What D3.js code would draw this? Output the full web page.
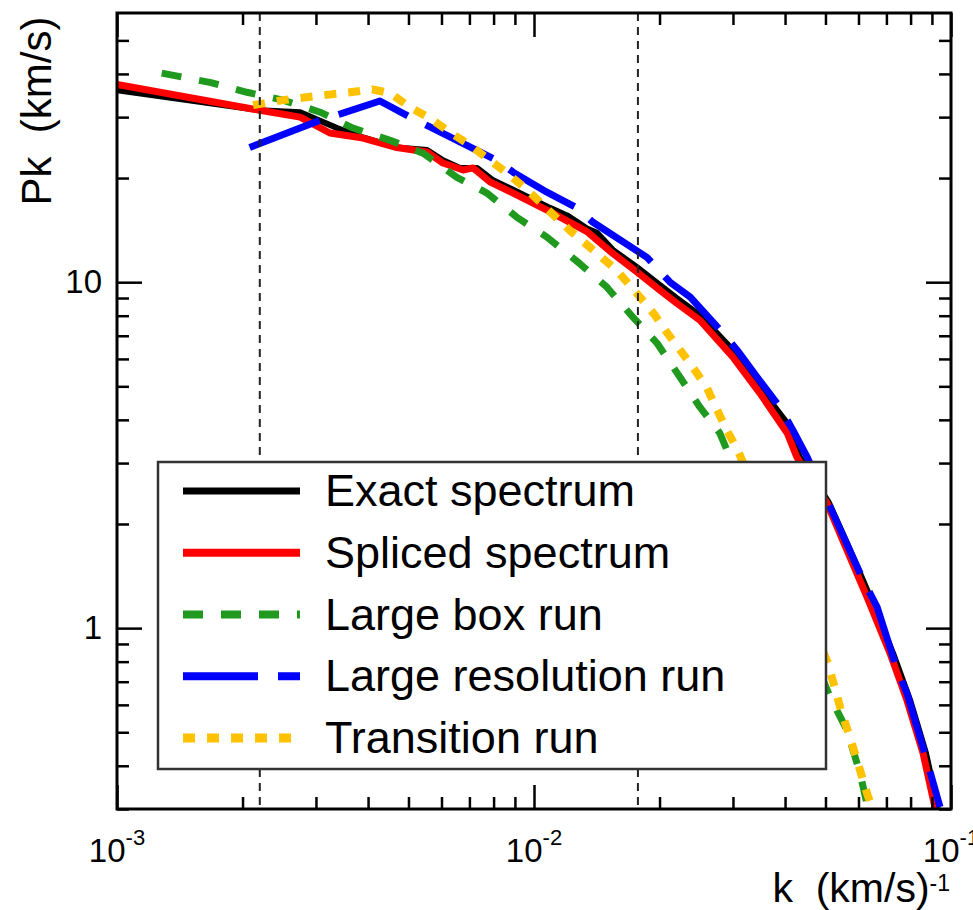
<!DOCTYPE html>
<html><head><meta charset="utf-8">
<script src="https://cdn.jsdelivr.net/npm/d3@7"></script>
<style>body{margin:0;background:#fff}svg{display:block}</style>
</head><body>
<script>
// ---- data ----
const kExact=[0.00100,0.00220,0.00275,0.00337,0.00389,0.00469,0.00554,0.00605,0.00665,0.00730,0.00798,0.00891,0.01092,0.0120,0.0134,0.01416,0.01546,0.01766,0.02005,0.0220,0.0250,0.0300,0.0348,0.0405,0.0434,0.0510,0.0573,0.0640,0.0726,0.0798,0.0871,0.0931];
const pkExact=[35.9,31.4,31.0,27.9,26.2,24.5,24.1,22.5,21.4,21.4,19.7,18.5,16.4,15.6,14.3,13.9,12.4,11.05,9.80,8.99,8.03,6.36,4.97,3.91,3.12,2.30,1.68,1.23,0.847,0.619,0.435,0.302];
const kSpliced=[0.00100,0.00220,0.00275,0.00324,0.00389,0.00469,0.00554,0.00605,0.00676,0.00714,0.00784,0.00891,0.01092,0.0134,0.01546,0.01766,0.02005,0.0220,0.0250,0.0300,0.0348,0.0405,0.0427,0.0504,0.0563,0.0629,0.0714,0.0784,0.0857,0.0916];
const pkSpliced=[37.3,31.4,30.0,27.0,26.1,24.5,23.8,22.1,21.1,21.4,19.5,18.1,16.0,14.0,12.1,10.7,9.48,8.69,7.76,6.07,4.78,3.66,3.12,2.30,1.68,1.23,0.847,0.619,0.435,0.302];
const kBox=[0.00128,0.00167,0.00205,0.00250,0.00307,0.00368,0.00452,0.00542,0.00653,0.00771,0.00910,0.01074,0.01289,0.01496,0.01727,0.01972,0.0224,0.0250,0.0279,0.0295,0.0513,0.0563,0.0605,0.0632];
const pkBox=[40.2,37.8,35.4,33.6,31.0,27.9,25.7,23.6,20.1,18.1,15.4,13.5,11.3,9.67,7.92,6.67,5.31,4.35,3.66,3.12,0.632,0.507,0.381,0.302];
const kHiRes=[0.00208,0.00307,0.00348,0.00427,0.00505,0.00563,0.00815,0.00891,0.01074,0.01268,0.01385,0.01866,0.0212,0.0237,0.0284,0.0307,0.0343,0.0389,0.0418,0.0452,0.0521,0.0615,0.0665,0.0743,0.0784,0.0875,0.0941];
const pkHiRes=[24.5,29.4,30.8,33.4,30.0,28.1,22.5,20.8,18.2,16.4,14.9,11.8,10.0,9.05,7.12,6.36,5.31,4.35,3.73,3.12,2.15,1.38,1.15,0.757,0.649,0.415,0.304];
const kTrans=[0.00212,0.00250,0.00312,0.00362,0.00409,0.00452,0.00505,0.00563,0.00629,0.00702,0.00784,0.00861,0.00962,0.01051,0.0122,0.01385,0.01582,0.01795,0.0195,0.0208,0.0226,0.0243,0.0260,0.0275,0.0290,0.0308,0.0507,0.0542,0.0582,0.0629,0.0647];
const pkTrans=[32.5,33.6,34.7,35.4,36.1,35.2,32.0,29.8,27.1,24.9,22.5,20.7,18.5,16.7,14.1,12.4,10.8,9.05,8.03,7.17,6.28,5.57,4.94,4.27,3.73,3.27,0.792,0.591,0.453,0.333,0.302];
const kMarks=[0.00220,0.01775];
const legendLabels=["Exact spectrum","Spliced spectrum","Large box run","Large resolution run","Transition run"];
const xMajor=[1e-3,1e-2,1e-1];
const xMinor=[2e-3,3e-3,4e-3,5e-3,6e-3,7e-3,8e-3,9e-3,2e-2,3e-2,4e-2,5e-2,6e-2,7e-2,8e-2,9e-2];
const yMajor=[1,10];
const yMinor=[0.3,0.4,0.5,0.6,0.7,0.8,0.9,2,3,4,5,6,7,8,9,20,30,40,50];

// ---- layout ----
const W=973,H=910;
const M={left:117,right:951,top:13,bottom:809};
const font='"Liberation Sans", Arial, Helvetica, sans-serif';
const x=d3.scaleLog().domain([1e-3,1e-1]).range([M.left,M.right]);
const y=d3.scaleLog().domain([0.3,60]).range([M.bottom,M.top]);

const svg=d3.select("body").append("svg").attr("width",W).attr("height",H).style("font-family",font);
svg.append("defs").append("clipPath").attr("id","clip").append("rect")
  .attr("x",M.left).attr("y",M.top).attr("width",M.right-M.left).attr("height",M.bottom-M.top);

const series=[
  {label:legendLabels[0],k:kExact,p:pkExact,color:"#000000",width:6,dash:null},
  {label:legendLabels[1],k:kSpliced,p:pkSpliced,color:"#ff0000",width:7,dash:null},
  {label:legendLabels[2],k:kBox,p:pkBox,color:"#1f9a1f",width:7,dash:"20,18"},
  {label:legendLabels[3],k:kHiRes,p:pkHiRes,color:"#0000ff",width:7,dash:"75,20"},
  {label:legendLabels[4],k:kTrans,p:pkTrans,color:"#ffc200",width:8,dash:"12,12"}
];

const line=d3.line().x(d=>x(d[0])).y(d=>y(d[1]));
const gLines=svg.append("g").attr("clip-path","url(#clip)");
series.forEach(s=>{
  gLines.append("path").datum(s.k.map((k,i)=>[k,s.p[i]]))
    .attr("d",line).attr("fill","none").attr("stroke",s.color)
    .attr("stroke-width",s.width).attr("stroke-dasharray",s.dash)
    .attr("stroke-linejoin","round");
});

// vertical dashed markers
svg.append("g").selectAll("line").data(kMarks).join("line")
  .attr("x1",d=>x(d)).attr("x2",d=>x(d)).attr("y1",M.top).attr("y2",M.bottom)
  .attr("stroke","#222").attr("stroke-width",2).attr("stroke-dasharray","8,6");

// axes
function tidy(g){g.select(".domain").remove();g.selectAll("line").attr("stroke","#000").attr("stroke-width",2.5);}
svg.append("g").attr("transform",`translate(${M.left},0)`)
  .call(d3.axisLeft(y).tickValues(yMajor).tickSize(-25).tickPadding(15).tickFormat(d3.format("d")))
  .call(tidy).call(g=>g.selectAll("text").attr("font-size",33).attr("font-family",font).attr("fill","#000"));
svg.append("g").attr("transform",`translate(${M.left},0)`)
  .call(d3.axisLeft(y).tickValues(yMinor).tickSize(-12).tickFormat("")).call(tidy);
svg.append("g").attr("transform",`translate(${M.right},0)`)
  .call(d3.axisRight(y).tickValues(yMajor).tickSize(-25).tickFormat("")).call(tidy);
svg.append("g").attr("transform",`translate(${M.right},0)`)
  .call(d3.axisRight(y).tickValues(yMinor).tickSize(-12).tickFormat("")).call(tidy);
svg.append("g").attr("transform",`translate(0,${M.bottom})`)
  .call(d3.axisBottom(x).tickValues(xMajor).tickSize(-24).tickFormat("")).call(tidy);
svg.append("g").attr("transform",`translate(0,${M.bottom})`)
  .call(d3.axisBottom(x).tickValues(xMinor).tickSize(-12).tickFormat("")).call(tidy);
svg.append("g").attr("transform",`translate(0,${M.top})`)
  .call(d3.axisTop(x).tickValues(xMajor).tickSize(-24).tickFormat("")).call(tidy);
svg.append("g").attr("transform",`translate(0,${M.top})`)
  .call(d3.axisTop(x).tickValues(xMinor).tickSize(-12).tickFormat("")).call(tidy);

// x tick labels with superscripts
svg.append("g").selectAll("text").data(xMajor).join("text")
  .attr("x",d=>x(d)).attr("y",862).attr("text-anchor","middle").attr("font-size",33).attr("fill","#000")
  .each(function(d){
    const t=d3.select(this);
    t.append("tspan").text("10");
    t.append("tspan").attr("dy",-17).attr("font-size",22).text(String(Math.round(Math.log10(d))));
  });

// frame
svg.append("rect").attr("x",M.left).attr("y",M.top).attr("width",M.right-M.left).attr("height",M.bottom-M.top)
  .attr("fill","none").attr("stroke","#000").attr("stroke-width",3);

// axis titles
const xt=svg.append("text").attr("x",950).attr("y",902).attr("text-anchor","end").attr("font-size",41).attr("fill","#000");
xt.append("tspan").text("k\u00a0\u00a0(km/s)");
xt.append("tspan").attr("dy",-11).attr("font-size",23).text("-1");
svg.append("text").attr("transform","translate(51,111) rotate(-90)").attr("text-anchor","middle")
  .attr("font-size",42).attr("fill","#000").text("Pk\u00a0\u00a0(km/s)");

// legend
const lg=svg.append("g");
lg.append("rect").attr("x",158).attr("y",462).attr("width",668).attr("height",307)
  .attr("fill","#fff").attr("stroke","#333").attr("stroke-width",2.5);
const rowY=d3.scaleLinear().domain([0,4]).range([491,738]);
series.forEach((s,i)=>{
  lg.append("line").attr("x1",183).attr("x2",300).attr("y1",rowY(i)).attr("y2",rowY(i))
    .attr("stroke",s.color).attr("stroke-width",s.width+1).attr("stroke-dasharray",s.dash);
  lg.append("text").attr("x",325).attr("y",rowY(i)+15).attr("font-size",45).attr("fill","#000").text(s.label);
});
</script>
</body></html>
